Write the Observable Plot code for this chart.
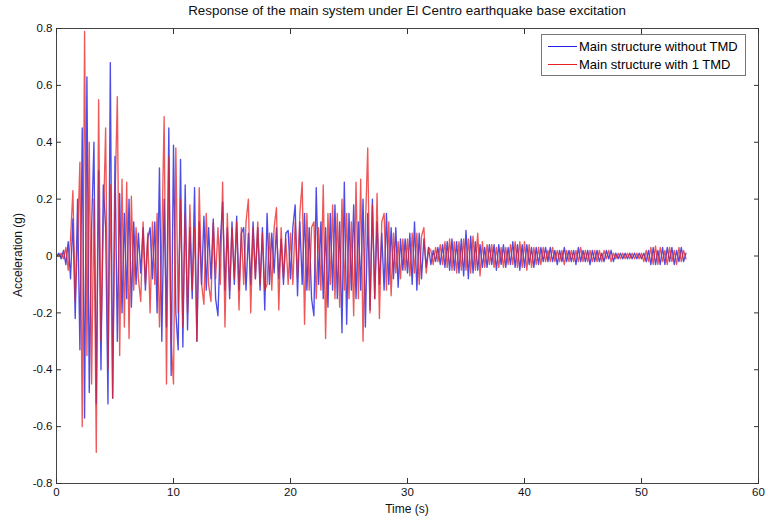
<!DOCTYPE html>
<html><head><meta charset="utf-8">
<script src="https://cdn.jsdelivr.net/npm/d3@7"></script>
<script src="https://cdn.jsdelivr.net/npm/@observablehq/plot@0.6"></script>
<style>
body{margin:0;background:#fff;font-family:"Liberation Sans",Arial,Helvetica,sans-serif;}
#wrap{position:relative;width:768px;height:523px;overflow:hidden;}
.lbl{position:absolute;color:#111;white-space:nowrap;}
#title{left:0;width:814px;top:3px;text-align:center;font-size:13.4px;}
#xlab{left:0;width:814px;top:502px;text-align:center;font-size:12px;}
#ylab{left:18px;top:255px;font-size:12px;transform:translate(-50%,-50%) rotate(-90deg);}
#legend{position:absolute;left:541px;top:34px;width:203px;height:40px;border:1px solid #777;background:#fff;font-size:13px;}
.li{position:absolute;left:6px;height:15px;display:flex;align-items:center;}
.li span.sw{display:inline-block;width:29px;height:0;border-top:1.3px solid;margin-right:2px;}
</style></head>
<body><div id="wrap">
<div class="lbl" id="title">Response of the main system under El Centro earthquake base excitation</div>
<div id="chart"></div>
<div class="lbl" id="xlab">Time (s)</div>
<div class="lbl" id="ylab">Acceleration (g)</div>
<div id="legend"></div>
</div>
<script>
// sample spacing of the traced signal (s)
const dt = 0.2;
const seriesNames = ["Main structure without TMD", "Main structure with 1 TMD"];
const seriesColors = ["#2020e0", "#e82020"];
const xTicks = [0, 10, 20, 30, 40, 50, 60];
const yTicks = [-0.8, -0.6, -0.4, -0.2, 0, 0.2, 0.4, 0.6, 0.8];

// Main structure without TMD (blue)
const withoutTMD = [
 0, 0.01, -0.01, 0.02, -0.03, 0.05, -0.08, 0.13, -0.22, 0.2,
 -0.33, 0.45, -0.57, 0.63, -0.48, 0.1, 0.4, -0.52, 0.3, -0.4,
 0.25, 0.1, -0.52, 0.68, -0.5, 0.35, -0.3, 0.22, -0.2, 0.15,
 -0.15, 0.2, -0.18, 0.12, -0.1, 0.08, -0.06, 0.1, -0.12, 0.06,
 0.1, -0.08, 0.12, -0.2, 0.31, -0.3, 0.2, -0.25, 0.45, -0.42,
 0.39, -0.2, -0.33, 0.34, -0.32, 0.25, -0.26, 0.1, -0.15, 0.24,
 -0.3, 0.12, -0.1, 0.14, -0.12, 0.1, -0.08, 0.13, -0.15, -0.21,
 0.05, 0.19, -0.12, 0.1, -0.15, 0.12, -0.1, 0.14, -0.12, 0.08,
 0.1, -0.12, 0.08, -0.1, 0.12, -0.08, 0.1, -0.12, 0.1, -0.19,
 0.15, -0.1, 0.08, -0.06, 0.1, -0.08, 0.06, -0.1, 0.08, 0.09,
 -0.08, 0.1, 0.18, -0.14, 0.12, -0.1, 0.15, -0.12, 0.1, -0.15,
 -0.21, 0.24, -0.1, 0.12, -0.15, 0.1, -0.18, 0.15, -0.12, 0.18,
 -0.15, 0.12, -0.27, 0.26, -0.24, 0.15, -0.12, 0.18, -0.15, 0.12,
 -0.12, 0.2, -0.25, 0.15, -0.19, 0.2, -0.15, 0.12, -0.1, 0.08,
 -0.12, 0.15, -0.1, 0.1, -0.08, 0.1, -0.11, 0.06, -0.05, 0.06,
 -0.06, 0.08, -0.1, 0.12, -0.12, 0.08, -0.08, 0.06, -0.04, 0.03,
 -0.03, 0.02, -0.02, 0.03, -0.03, 0.04, -0.04, 0.05, -0.05, 0.06,
 -0.05, 0.05, -0.06, 0.06, -0.07, 0.09, -0.08, 0.07, -0.06, 0.05,
 -0.05, 0.04, -0.04, 0.03, -0.04, 0.04, -0.03, 0.04, -0.05, 0.04,
 -0.03, 0.04, -0.04, 0.03, -0.03, 0.05, -0.04, 0.04, -0.05, 0.04,
 -0.04, 0.04, -0.03, 0.03, -0.04, 0.03, -0.03, 0.03, -0.02, 0.03,
 -0.02, 0.03, -0.02, 0.02, -0.03, 0.02, -0.02, 0.03, -0.02, 0.02,
 -0.02, 0.02, -0.03, 0.03, -0.02, 0.02, -0.02, 0.02, -0.03, 0.02,
 -0.02, 0.02, -0.02, 0.01, -0.02, 0.02, -0.01, 0.02, -0.02, 0.01,
 -0.01, 0.01, -0.01, 0.01, -0.01, 0.01, -0.01, 0.01, -0.01, 0.01,
 -0.01, 0.01, -0.02, 0.02, -0.03, 0.03, -0.03, 0.02, -0.03, 0.03,
 -0.03, 0.03, -0.02, 0.03, -0.03, 0.02, -0.02, 0.03, -0.02, 0.01
];

// Main structure with 1 TMD (red)
const withTMD = [
 0, 0, 0.01, -0.01, 0.03, -0.05, 0.06, 0.23, -0.16, 0.05,
 0.33, -0.6, 0.79, -0.35, 0.4, -0.45, 0.2, -0.69, 0.55, -0.3,
 0.1, 0.45, -0.4, 0.25, -0.5, 0.2, 0.56, -0.35, 0.27, -0.25,
 0.26, -0.29, 0.21, -0.12, 0.1, -0.08, -0.16, 0.12, -0.1, 0.08,
 -0.2, 0.12, -0.1, 0.15, -0.25, 0.05, 0.49, -0.45, 0.35, -0.3,
 -0.45, 0.38, -0.2, 0.2, -0.25, 0.15, -0.2, 0.18, -0.12, 0.1,
 -0.3, 0.24, -0.1, -0.17, 0.15, -0.1, -0.16, 0.12, -0.08, 0.1,
 -0.1, 0.26, -0.25, 0.15, -0.12, 0.1, -0.08, 0.12, -0.19, 0.1,
 -0.1, 0.12, 0.2, -0.2, 0.1, -0.08, 0.12, -0.1, 0.08, -0.12,
 -0.1, 0.08, -0.12, 0.1, 0.17, -0.19, 0.1, -0.08, 0.06, -0.1,
 0.08, -0.1, 0.12, -0.08, 0.15, 0.26, -0.24, 0.15, -0.12, 0.1,
 0.12, -0.15, 0.1, -0.12, 0.25, -0.29, 0.15, -0.1, 0.18, -0.15,
 0.15, -0.18, 0.2, -0.12, 0.15, -0.15, 0.12, -0.21, 0.26, -0.15,
 0.27, -0.3, 0.1, 0.38, -0.2, 0.18, -0.15, 0.22, -0.22, 0.12,
 0.15, -0.12, 0.12, -0.14, 0.08, -0.06, 0.05, -0.08, 0.06, -0.05,
 0.06, -0.07, 0.08, -0.06, 0.08, -0.1, 0.07, 0.1, -0.06, 0.03,
 0.02, -0.03, 0.03, -0.02, 0.04, -0.03, 0.05, -0.04, 0.06, -0.05,
 0.05, -0.06, 0.05, -0.05, 0.06, -0.05, 0.06, -0.06, 0.07, -0.05,
 0.08, -0.07, 0.05, -0.04, 0.04, -0.03, 0.04, -0.04, 0.03, -0.04,
 0.03, -0.04, 0.03, -0.03, 0.04, -0.03, 0.05, -0.04, 0.05, -0.04,
 0.05, -0.05, 0.04, -0.04, 0.03, -0.03, 0.03, -0.03, 0.03, -0.02,
 0.02, -0.02, 0.03, -0.02, 0.02, -0.02, 0.02, -0.03, 0.02, -0.02,
 0.02, -0.02, 0.02, -0.02, 0.03, -0.02, 0.02, -0.02, 0.02, -0.02,
 0.02, -0.02, 0.02, -0.02, 0.02, -0.01, 0.02, -0.02, 0.01, -0.01,
 0.01, -0.01, 0.01, -0.01, 0.01, -0.01, 0.01, -0.01, 0.01, -0.01,
 0.01, -0.02, 0.02, -0.02, 0.03, -0.03, 0.035, -0.03, 0.03, -0.02,
 0.02, -0.03, 0.03, -0.02, 0.02, -0.03, 0.03, -0.02, 0.02, -0.01
];

const toRows = (vals) => vals.map((v, i) => ({t: +(i * dt).toFixed(2), a: v}));
const rowsBlue = toRows(withoutTMD);
const rowsRed = toRows(withTMD);

const axisFont = {fontSize: 11.5, fill: "#111"};
const chart = Plot.plot({
  width: 768, height: 523,
  marginLeft: 56, marginRight: 10, marginTop: 28, marginBottom: 40,
  style: {fontFamily: '"Liberation Sans", Arial, sans-serif', background: "#fff"},
  x: {domain: [0, 60]},
  y: {domain: [-0.8, 0.8]},
  marks: [
    Plot.line(rowsBlue, {x: "t", y: "a", stroke: seriesColors[0], strokeWidth: 1.35, strokeOpacity: 0.8}),
    Plot.line(rowsRed, {x: "t", y: "a", stroke: seriesColors[1], strokeWidth: 1.35, strokeOpacity: 0.75}),
    Plot.frame({stroke: "#444", strokeWidth: 1}),
    // inward ticks on all four sides
    Plot.axisX({anchor: "bottom", ticks: xTicks, tickSize: 5, dy: -5, text: null, label: null, stroke: "#333"}),
    Plot.axisX({anchor: "top", ticks: xTicks, tickSize: 5, dy: 5, text: null, label: null, stroke: "#333"}),
    Plot.axisY({anchor: "left", ticks: yTicks, tickSize: 5, dx: 5, text: null, label: null, stroke: "#333"}),
    Plot.axisY({anchor: "right", ticks: yTicks, tickSize: 5, dx: -5, text: null, label: null, stroke: "#333"}),
    // tick labels
    Plot.axisX({anchor: "bottom", ticks: xTicks, tickSize: 0, tickPadding: 4, tickFormat: d => String(d), label: null, ...axisFont}),
    Plot.axisY({anchor: "left", ticks: yTicks, tickSize: 0, tickPadding: 4, tickFormat: d => String(d), label: null, ...axisFont})
  ]
});
document.getElementById("chart").appendChild(chart);

const legend = document.getElementById("legend");
seriesNames.forEach((name, i) => {
  const row = document.createElement("div");
  row.className = "li";
  row.style.top = (4 + i * 18) + "px";
  const sw = document.createElement("span");
  sw.className = "sw";
  sw.style.borderTopColor = seriesColors[i];
  row.appendChild(sw);
  row.appendChild(document.createTextNode(name));
  legend.appendChild(row);
});
</script>
</body></html>
